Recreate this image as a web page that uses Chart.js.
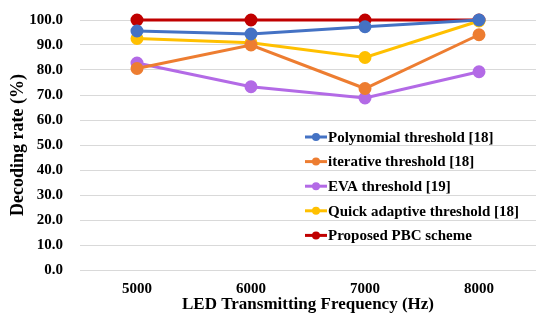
<!DOCTYPE html>
<html>
<head>
<meta charset="utf-8">
<script src="https://cdn.jsdelivr.net/npm/chart.js@4"></script>
<style>
  body { margin: 0; background: #fff; }
  #wrap { width: 550px; height: 325px; }
</style>
</head>
<body>
<div id="wrap"><canvas id="myChart"></canvas></div>
<script>
const frequencies = ['5000', '6000', '7000', '8000']
const seriesNames = ['Polynomial threshold [18]', 'iterative threshold [18]', 'EVA threshold [19]', 'Quick adaptive threshold [18]', 'Proposed PBC scheme']
const polynomial = [95.6, 94.4, 97.3, 100.0]
const iterative = [80.6, 90.0, 72.6, 94.1]
const eva = [82.8, 73.3, 68.8, 79.3]
const quickAdaptive = [92.6, 90.9, 85.0, 99.6]
const proposed = [100.0, 100.0, 100.0, 100.0]
const colors = ['#4472C4', '#ED7D31', '#B36AE6', '#FFC000', '#C00000']

const serif = '"Liberation Serif", "Times New Roman", serif'

const allSeries = [polynomial, iterative, eva, quickAdaptive, proposed]
const datasets = allSeries.map((values, i) => ({
    label: seriesNames[i],
    data: values,
    borderColor: colors[i],
    backgroundColor: colors[i],
    borderWidth: 3,
    pointRadius: 5,
    pointHoverRadius: 5,
    tension: 0,
    clip: false
}))

// legend drawn inside the plot, lower right
const insideLegend = {
    id: 'insideLegend',
    afterDraw(chart) {
        const ctx = chart.ctx
        const x0 = 305, y0 = 137, step = 24.6
        ctx.save()
        ctx.font = 'bold 15px ' + serif
        ctx.textBaseline = 'middle'
        chart.data.datasets.forEach((ds, i) => {
            const y = y0 + i * step
            ctx.strokeStyle = ds.borderColor
            ctx.lineWidth = 3
            ctx.beginPath()
            ctx.moveTo(x0, y)
            ctx.lineTo(x0 + 22, y)
            ctx.stroke()
            ctx.fillStyle = ds.borderColor
            ctx.beginPath()
            ctx.arc(x0 + 11, y, 4, 0, Math.PI * 2)
            ctx.fill()
            ctx.fillStyle = '#000'
            ctx.fillText(ds.label, x0 + 23, y + 1)
        })
        ctx.restore()
    }
}

const ctx = document.getElementById('myChart').getContext('2d')
new Chart(ctx, {
    type: 'line',
    data: { labels: frequencies, datasets: datasets },
    plugins: [insideLegend],
    options: {
        responsive: true,
        maintainAspectRatio: false,
        animation: false,
        layout: { autoPadding: false, padding: { top: 20, right: 14, left: 0, bottom: 0 } },
        plugins: {
            legend: { display: false },
            tooltip: { enabled: false }
        },
        scales: {
            x: {
                offset: true,
                afterFit: scale => { scale.height = 55 },
                grid: { display: false },
                border: { display: false },
                ticks: { color: '#000', font: { family: serif, size: 15, weight: 'bold' }, padding: 2 },
                title: {
                    display: true,
                    text: 'LED Transmitting Frequency (Hz)',
                    color: '#000',
                    font: { family: serif, size: 17, weight: 'bold' },
                    padding: { top: 0, bottom: 10 }
                }
            },
            y: {
                min: 0,
                max: 100,
                afterFit: scale => {
                    scale.width = 80
                    scale.paddingTop = 0
                    scale.paddingBottom = 0
                },
                ticks: {
                    stepSize: 10,
                    color: '#000',
                    font: { family: serif, size: 15, weight: 'bold' },
                    padding: 17,
                    callback: v => v.toFixed(1)
                },
                grid: { color: '#D9D9D9', lineWidth: 1, drawTicks: false },
                border: { display: false },
                title: {
                    display: true,
                    text: 'Decoding rate (%)',
                    color: '#000',
                    font: { family: serif, size: 18, weight: 'bold' },
                    padding: { top: 8, bottom: 4 }
                }
            }
        }
    }
})
</script>
</body>
</html>
